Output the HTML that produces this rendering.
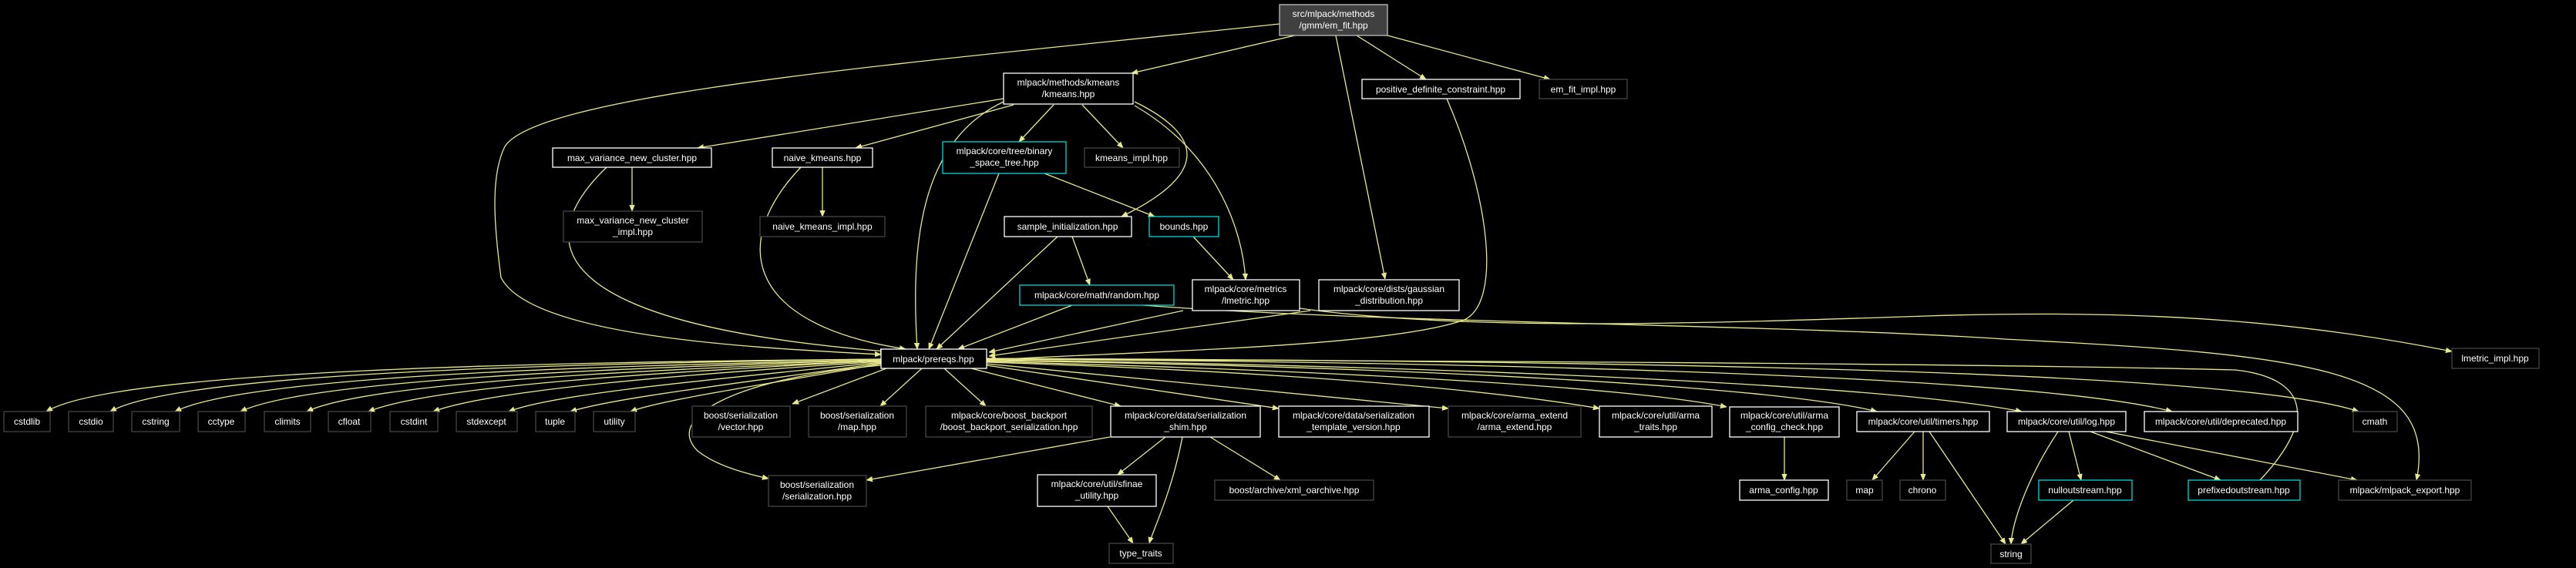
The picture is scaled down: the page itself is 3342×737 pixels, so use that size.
<!DOCTYPE html>
<html><head><meta charset="utf-8"><style>
html,body{margin:0;padding:0;background:#000;}
svg{display:block;}
text{font-family:"Liberation Sans",sans-serif;font-size:12px;fill:#fff;text-anchor:middle;}
.e{fill:none;stroke:#e8e88c;stroke-width:1.3;}
.w{fill:#000;stroke:#fff;stroke-width:1.3;}
.g{fill:#000;stroke:#444;stroke-width:1.3;}
.c{fill:#000;stroke:#00d8d8;stroke-width:1.3;}
</style></head><body>
<svg width="3342" height="737" viewBox="0 0 3342 737" xmlns="http://www.w3.org/2000/svg">
<defs><marker id="a" viewBox="0 0 10 10" refX="10" refY="5" markerWidth="8" markerHeight="8" markerUnits="userSpaceOnUse" orient="auto"><path d="M0,1 L10,5 L0,9 z" fill="#e8e88c" stroke="#e8e88c"/></marker></defs>
<g marker-end="url(#a)">
<path class="e" d="M1660,31 C1200,80 700,120 655,190 C635,230 642,300 650,360 C690,440 1000,452 1143,460"/>
<path class="e" d="M1680,46 L1468,95"/>
<path class="e" d="M1760,46 L1850,103"/>
<path class="e" d="M1800,46 L2011,103"/>
<path class="e" d="M1733,46 L1797,362"/>
<path class="e" d="M1302,128 L905,192"/>
<path class="e" d="M1315,136 L1110,192"/>
<path class="e" d="M1367,136 L1322,184"/>
<path class="e" d="M1404,136 L1457,192"/>
<path class="e" d="M1472,132 C1570,180 1560,230 1455,281"/>
<path class="e" d="M1472,137 C1580,200 1612,300 1616,363"/>
<path class="e" d="M1302,132 C1200,180 1180,300 1190,453"/>
<path class="e" d="M787,217 C690,310 700,420 1150,456"/>
<path class="e" d="M1039,217 C950,310 960,420 1175,453"/>
<path class="e" d="M820,217 L820,274"/>
<path class="e" d="M1067,217 L1067,281"/>
<path class="e" d="M1296,225 L1205,453"/>
<path class="e" d="M1355,225 L1498,281"/>
<path class="e" d="M1548,307 L1600,363"/>
<path class="e" d="M1391,307 L1414,370"/>
<path class="e" d="M1372,307 L1215,453"/>
<path class="e" d="M1391,396 L1243,453"/>
<path class="e" d="M1535,403 L1283,457"/>
<path class="e" d="M1700,403 L1283,462"/>
<path class="e" d="M1877,128 C1930,250 1950,390 1900,415 C1800,450 1500,455 1283,467"/>
<path class="e" d="M1483,396 C1800,420 2300,420 2600,440 C3000,460 3165,480 3135,623"/>
<path class="e" d="M1686,400 C1900,430 2200,420 2500,410 C2800,400 3000,420 3181,456"/>
<path class="e" d="M2932,623 C3010,540 2990,490 2900,480 C2500,470 1700,468 1283,466"/>
<path class="e" d="M1143,466 C700,470 150,480 60,534"/>
<path class="e" d="M1143,466 C700,472 230,485 143,534"/>
<path class="e" d="M1143,467 C760,475 320,488 227,534"/>
<path class="e" d="M1143,467 C800,478 400,492 312,534"/>
<path class="e" d="M1143,468 C850,480 480,495 398,534"/>
<path class="e" d="M1143,468 C880,482 560,500 478,534"/>
<path class="e" d="M1143,469 C900,485 640,505 562,534"/>
<path class="e" d="M1143,470 C950,490 720,510 660,534"/>
<path class="e" d="M1143,471 C980,495 800,515 740,534"/>
<path class="e" d="M1143,472 C1000,498 860,518 818,534"/>
<path class="e" d="M1143,474 C960,490 860,540 905,585 C930,605 970,615 997,621"/>
<path class="e" d="M1150,478 L1028,524"/>
<path class="e" d="M1196,478 L1142,527"/>
<path class="e" d="M1225,478 L1279,527"/>
<path class="e" d="M1260,478 L1454,527"/>
<path class="e" d="M1280,474 L1659,530"/>
<path class="e" d="M1280,472 L1879,530"/>
<path class="e" d="M1280,470 C1600,480 1900,500 2075,530"/>
<path class="e" d="M1280,469 C1700,480 2100,500 2240,528"/>
<path class="e" d="M1280,468 C1800,475 2300,500 2435,534"/>
<path class="e" d="M1280,467 C1900,475 2450,500 2623,534"/>
<path class="e" d="M1280,466 C2000,470 2650,490 2818,534"/>
<path class="e" d="M1280,465 C2100,468 2900,480 3060,534"/>
<path class="e" d="M1440,567 L1124,623"/>
<path class="e" d="M1512,567 L1450,616"/>
<path class="e" d="M1534,567 C1520,640 1495,690 1491,705"/>
<path class="e" d="M1570,567 L1661,623"/>
<path class="e" d="M1437,657 L1470,705"/>
<path class="e" d="M2315,567 L2315,623"/>
<path class="e" d="M2484,560 L2429,623"/>
<path class="e" d="M2495,560 L2495,623"/>
<path class="e" d="M2503,560 L2602,706"/>
<path class="e" d="M2670,560 C2630,620 2610,680 2609,706"/>
<path class="e" d="M2684,560 L2700,623"/>
<path class="e" d="M2712,560 L2881,623"/>
<path class="e" d="M2732,560 L3058,623"/>
<path class="e" d="M2690,649 L2622,706"/>
</g>
<rect x="1660" y="6" width="140" height="40" fill="#404040" stroke="#bfbfbf" stroke-width="1.3"/>
<text x="1730" y="22">src/mlpack/methods</text><text x="1730" y="37">/gmm/em_fit.hpp</text>
<rect class="w" x="1302" y="95" width="168" height="40"/><text x="1386" y="111">mlpack/methods/kmeans</text><text x="1386" y="126">/kmeans.hpp</text>
<rect class="w" x="1767" y="103" width="205" height="25"/><text x="1869" y="120">positive_definite_constraint.hpp</text>
<rect class="g" x="1997" y="103" width="114" height="25"/><text x="2054" y="120">em_fit_impl.hpp</text>
<rect class="w" x="717" y="192" width="206" height="25"/><text x="820" y="209">max_variance_new_cluster.hpp</text>
<rect class="w" x="1002" y="192" width="130" height="25"/><text x="1067" y="209">naive_kmeans.hpp</text>
<rect class="c" x="1223" y="184" width="160" height="41"/><text x="1303" y="200">mlpack/core/tree/binary</text><text x="1303" y="215">_space_tree.hpp</text>
<rect class="g" x="1407" y="192" width="123" height="25"/><text x="1468" y="209">kmeans_impl.hpp</text>
<rect class="g" x="731" y="274" width="180" height="40"/><text x="821" y="290">max_variance_new_cluster</text><text x="821" y="305">_impl.hpp</text>
<rect class="g" x="986" y="281" width="162" height="26"/><text x="1067" y="298">naive_kmeans_impl.hpp</text>
<rect class="w" x="1303" y="281" width="165" height="26"/><text x="1385" y="298">sample_initialization.hpp</text>
<rect class="c" x="1491" y="281" width="90" height="26"/><text x="1536" y="298">bounds.hpp</text>
<rect class="c" x="1323" y="370" width="200" height="26"/><text x="1423" y="387">mlpack/core/math/random.hpp</text>
<rect class="w" x="1547" y="363" width="139" height="40"/><text x="1616" y="379">mlpack/core/metrics</text><text x="1616" y="394">/lmetric.hpp</text>
<rect class="w" x="1711" y="363" width="182" height="40"/><text x="1802" y="379">mlpack/core/dists/gaussian</text><text x="1802" y="394">_distribution.hpp</text>
<rect class="g" x="3181" y="452" width="113" height="26"/><text x="3237" y="469">lmetric_impl.hpp</text>
<rect class="w" x="1143" y="453" width="137" height="25"/><text x="1211" y="470">mlpack/prereqs.hpp</text>
<rect class="g" x="5" y="534" width="60" height="26"/><text x="35" y="551">cstdlib</text>
<rect class="g" x="89" y="534" width="58" height="26"/><text x="118" y="551">cstdio</text>
<rect class="g" x="171" y="534" width="62" height="26"/><text x="202" y="551">cstring</text>
<rect class="g" x="257" y="534" width="61" height="26"/><text x="287" y="551">cctype</text>
<rect class="g" x="343" y="534" width="60" height="26"/><text x="373" y="551">climits</text>
<rect class="g" x="426" y="534" width="55" height="26"/><text x="453" y="551">cfloat</text>
<rect class="g" x="506" y="534" width="62" height="26"/><text x="537" y="551">cstdint</text>
<rect class="g" x="592" y="534" width="79" height="26"/><text x="631" y="551">stdexcept</text>
<rect class="g" x="695" y="534" width="51" height="26"/><text x="720" y="551">tuple</text>
<rect class="g" x="770" y="534" width="54" height="26"/><text x="797" y="551">utility</text>
<rect class="g" x="898" y="527" width="127" height="40"/><text x="961" y="543">boost/serialization</text><text x="961" y="558">/vector.hpp</text>
<rect class="g" x="1049" y="527" width="127" height="40"/><text x="1112" y="543">boost/serialization</text><text x="1112" y="558">/map.hpp</text>
<rect class="g" x="1201" y="527" width="216" height="40"/><text x="1309" y="543">mlpack/core/boost_backport</text><text x="1309" y="558">/boost_backport_serialization.hpp</text>
<rect class="w" x="1441" y="527" width="194" height="40"/><text x="1538" y="543">mlpack/core/data/serialization</text><text x="1538" y="558">_shim.hpp</text>
<rect class="w" x="1659" y="527" width="195" height="40"/><text x="1756" y="543">mlpack/core/data/serialization</text><text x="1756" y="558">_template_version.hpp</text>
<rect class="g" x="1879" y="527" width="172" height="40"/><text x="1965" y="543">mlpack/core/arma_extend</text><text x="1965" y="558">/arma_extend.hpp</text>
<rect class="w" x="2075" y="527" width="146" height="40"/><text x="2148" y="543">mlpack/core/util/arma</text><text x="2148" y="558">_traits.hpp</text>
<rect class="w" x="2244" y="528" width="142" height="39"/><text x="2315" y="543">mlpack/core/util/arma</text><text x="2315" y="558">_config_check.hpp</text>
<rect class="w" x="2409" y="534" width="172" height="26"/><text x="2495" y="551">mlpack/core/util/timers.hpp</text>
<rect class="w" x="2604" y="534" width="154" height="26"/><text x="2681" y="551">mlpack/core/util/log.hpp</text>
<rect class="w" x="2782" y="534" width="199" height="26"/><text x="2881" y="551">mlpack/core/util/deprecated.hpp</text>
<rect class="g" x="3053" y="534" width="57" height="26"/><text x="3081" y="551">cmath</text>
<rect class="g" x="997" y="617" width="127" height="40"/><text x="1060" y="633">boost/serialization</text><text x="1060" y="648">/serialization.hpp</text>
<rect class="w" x="1346" y="616" width="154" height="41"/><text x="1423" y="632">mlpack/core/util/sfinae</text><text x="1423" y="647">_utility.hpp</text>
<rect class="g" x="1576" y="623" width="206" height="26"/><text x="1679" y="640">boost/archive/xml_oarchive.hpp</text>
<rect class="g" x="1439" y="705" width="83" height="26"/><text x="1480" y="722">type_traits</text>
<rect class="w" x="2257" y="623" width="115" height="26"/><text x="2314" y="640">arma_config.hpp</text>
<rect class="g" x="2396" y="623" width="46" height="26"/><text x="2419" y="640">map</text>
<rect class="g" x="2465" y="623" width="59" height="26"/><text x="2494" y="640">chrono</text>
<rect class="c" x="2645" y="623" width="121" height="26"/><text x="2705" y="640">nulloutstream.hpp</text>
<rect class="c" x="2839" y="623" width="145" height="26"/><text x="2911" y="640">prefixedoutstream.hpp</text>
<rect class="g" x="3034" y="623" width="172" height="26"/><text x="3120" y="640">mlpack/mlpack_export.hpp</text>
<rect class="g" x="2583" y="706" width="52" height="25"/><text x="2609" y="723">string</text>
</svg>
</body></html>
